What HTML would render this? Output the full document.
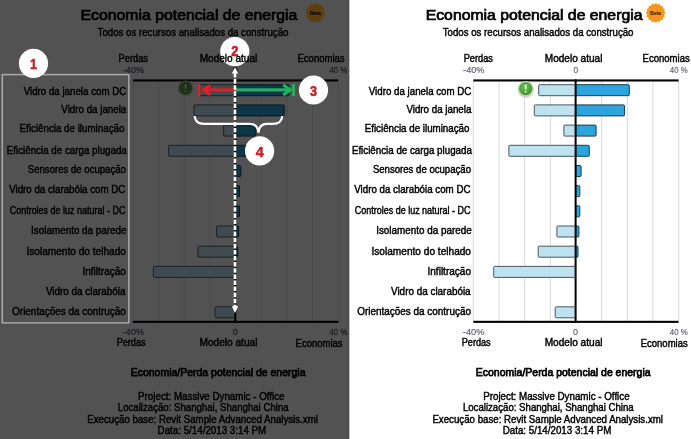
<!DOCTYPE html><html><head><meta charset="utf-8"><style>html,body{margin:0;padding:0;background:#fff;overflow:hidden;}svg text{font-family:"Liberation Sans", sans-serif;}</style></head><body><svg width="691" height="439" viewBox="0 0 691 439" style="display:block;will-change:transform;font-family:'Liberation Sans', sans-serif"><rect x="0" y="0" width="691" height="439" fill="#fff"/>
<rect x="472.8" y="81" width="1" height="240" fill="#d9d9d9"/>
<rect x="498.5" y="81" width="1" height="240" fill="#d9d9d9"/>
<rect x="524.1" y="81" width="1" height="240" fill="#d9d9d9"/>
<rect x="549.8" y="81" width="1" height="240" fill="#d9d9d9"/>
<rect x="601.1" y="81" width="1" height="240" fill="#d9d9d9"/>
<rect x="626.8" y="81" width="1" height="240" fill="#d9d9d9"/>
<rect x="652.4" y="81" width="1" height="240" fill="#d9d9d9"/>
<rect x="678.1" y="81" width="1" height="240" fill="#d9d9d9"/>
<rect x="538.7" y="84.7" width="36.9" height="11.0" rx="1" fill="#bde2f0" stroke="#4a5560" stroke-width="1"/>
<rect x="575.6" y="84.7" width="53.7" height="11.0" rx="1" fill="#2aa5de" stroke="#1b3c50" stroke-width="1"/>
<rect x="534.3" y="104.9" width="41.3" height="11.0" rx="1" fill="#bde2f0" stroke="#4a5560" stroke-width="1"/>
<rect x="575.6" y="104.9" width="49.0" height="11.0" rx="1" fill="#2aa5de" stroke="#1b3c50" stroke-width="1"/>
<rect x="563.9" y="125.1" width="11.7" height="11.0" rx="1" fill="#bde2f0" stroke="#4a5560" stroke-width="1"/>
<rect x="575.6" y="125.1" width="20.5" height="11.0" rx="1" fill="#2aa5de" stroke="#1b3c50" stroke-width="1"/>
<rect x="508.9" y="145.3" width="66.7" height="11.0" rx="1" fill="#bde2f0" stroke="#4a5560" stroke-width="1"/>
<rect x="575.6" y="145.3" width="13.7" height="11.0" rx="1" fill="#2aa5de" stroke="#1b3c50" stroke-width="1"/>
<rect x="575.6" y="165.5" width="5.5" height="11.0" rx="1" fill="#2aa5de" stroke="#1b3c50" stroke-width="1"/>
<rect x="575.6" y="185.7" width="4.2" height="11.0" rx="1" fill="#2aa5de" stroke="#1b3c50" stroke-width="1"/>
<rect x="575.6" y="205.8" width="4.2" height="11.0" rx="1" fill="#2aa5de" stroke="#1b3c50" stroke-width="1"/>
<rect x="556.9" y="226.0" width="18.7" height="11.0" rx="1" fill="#bde2f0" stroke="#4a5560" stroke-width="1"/>
<rect x="575.6" y="226.0" width="3.3" height="11.0" rx="1" fill="#2aa5de" stroke="#1b3c50" stroke-width="1"/>
<rect x="538.2" y="246.2" width="37.4" height="11.0" rx="1" fill="#bde2f0" stroke="#4a5560" stroke-width="1"/>
<rect x="575.6" y="246.2" width="2.4" height="11.0" rx="1" fill="#2aa5de" stroke="#1b3c50" stroke-width="1"/>
<rect x="493.7" y="266.4" width="81.9" height="11.0" rx="1" fill="#bde2f0" stroke="#4a5560" stroke-width="1"/>
<rect x="555.2" y="306.8" width="20.4" height="11.0" rx="1" fill="#bde2f0" stroke="#4a5560" stroke-width="1"/>
<rect x="473.3" y="79.4" width="205.3" height="2.1" fill="#000"/>
<rect x="473.3" y="320.8" width="205.3" height="2.1" fill="#000"/>
<rect x="574.6" y="79.4" width="2" height="243.5" fill="#000"/>
<defs><radialGradient id="wg" cx="0.45" cy="0.35" r="0.7"><stop offset="0" stop-color="#6cbf55"/><stop offset="1" stop-color="#3f8f34"/></radialGradient></defs>
<circle cx="525.7" cy="89.8" r="8.2" fill="#d2d6d0"/>
<circle cx="525.7" cy="88.6" r="7.7" fill="#b9e0a4"/>
<circle cx="525.7" cy="88.6" r="6.6" fill="url(#wg)"/>
<rect x="524.8000000000001" y="84.39999999999999" width="1.8" height="5.2" rx="0.9" fill="#eefbe8"/>
<circle cx="525.7" cy="91.6" r="0.95" fill="#eefbe8"/>
<polygon points="665.60,13.00 664.13,14.68 664.85,16.79 662.85,17.78 662.70,20.00 660.48,20.15 659.49,22.15 657.38,21.43 655.70,22.90 654.02,21.43 651.91,22.15 650.92,20.15 648.70,20.00 648.55,17.78 646.55,16.79 647.27,14.68 645.80,13.00 647.27,11.32 646.55,9.21 648.55,8.22 648.70,6.00 650.92,5.85 651.91,3.85 654.02,4.57 655.70,3.10 657.38,4.57 659.49,3.85 660.48,5.85 662.70,6.00 662.85,8.22 664.85,9.21 664.13,11.32" fill="#f5971f"/>
<text x="650.3" y="15.2" font-size="5" font-weight="bold" fill="#3a2000" textLength="10.8" lengthAdjust="spacingAndGlyphs" stroke="#3a2000" stroke-width="0.1">Beta</text>
<text x="425.7" y="20.3" font-size="14.8" font-weight="normal" fill="#000" textLength="216.8" lengthAdjust="spacingAndGlyphs" stroke="#000" stroke-width="0.72">Economia potencial de energia</text>
<text x="442.7" y="36.0" font-size="10.5" font-weight="normal" fill="#000" textLength="190.8" lengthAdjust="spacingAndGlyphs" stroke="#000" stroke-width="0.42">Todos os recursos analisados da construção</text>
<text x="463.7" y="61.8" font-size="10" font-weight="normal" fill="#000" textLength="29.3" lengthAdjust="spacingAndGlyphs" stroke="#000" stroke-width="0.42">Perdas</text>
<text x="544.8" y="61.8" font-size="10" font-weight="normal" fill="#000" textLength="57.6" lengthAdjust="spacingAndGlyphs" stroke="#000" stroke-width="0.42">Modelo atual</text>
<text x="642.6" y="61.8" font-size="10" font-weight="normal" fill="#000" textLength="47.1" lengthAdjust="spacingAndGlyphs" stroke="#000" stroke-width="0.42">Economias</text>
<text x="461.8" y="345.8" font-size="10" font-weight="normal" fill="#000" textLength="28.8" lengthAdjust="spacingAndGlyphs" stroke="#000" stroke-width="0.42">Perdas</text>
<text x="544.7" y="345.8" font-size="10" font-weight="normal" fill="#000" textLength="57.8" lengthAdjust="spacingAndGlyphs" stroke="#000" stroke-width="0.42">Modelo atual</text>
<text x="640.7" y="346.9" font-size="10" font-weight="normal" fill="#000" textLength="47.0" lengthAdjust="spacingAndGlyphs" stroke="#000" stroke-width="0.42">Economias</text>
<text x="475.8" y="375.6" font-size="11.4" font-weight="normal" fill="#000" textLength="174.8" lengthAdjust="spacingAndGlyphs" stroke="#000" stroke-width="0.75">Economia/Perda potencial de energia</text>
<text x="483.2" y="399.9" font-size="10" font-weight="normal" fill="#000" textLength="146.4" lengthAdjust="spacingAndGlyphs" stroke="#000" stroke-width="0.42">Project: Massive Dynamic - Office</text>
<text x="462.9" y="411.3" font-size="10" font-weight="normal" fill="#000" textLength="170.8" lengthAdjust="spacingAndGlyphs" stroke="#000" stroke-width="0.42">Localização: Shanghai, Shanghai China</text>
<text x="432.4" y="422.5" font-size="10" font-weight="normal" fill="#000" textLength="230.6" lengthAdjust="spacingAndGlyphs" stroke="#000" stroke-width="0.42">Execução base: Revit Sample Advanced Analysis.xml</text>
<text x="502.7" y="434.0" font-size="10" font-weight="normal" fill="#000" textLength="108.6" lengthAdjust="spacingAndGlyphs" stroke="#000" stroke-width="0.42">Data: 5/14/2013 3:14 PM</text>
<text x="368.8" y="95.3" font-size="10.2" font-weight="normal" fill="#000" textLength="102.6" lengthAdjust="spacingAndGlyphs" stroke="#000" stroke-width="0.42">Vidro da janela com DC</text>
<text x="406.4" y="112.8" font-size="10.2" font-weight="normal" fill="#000" textLength="65.0" lengthAdjust="spacingAndGlyphs" stroke="#000" stroke-width="0.42">Vidro da janela</text>
<text x="364.7" y="131.6" font-size="10.2" font-weight="normal" fill="#000" textLength="104.8" lengthAdjust="spacingAndGlyphs" stroke="#000" stroke-width="0.42">Eficiência de iluminação</text>
<text x="351.9" y="153.5" font-size="10.2" font-weight="normal" fill="#000" textLength="120.0" lengthAdjust="spacingAndGlyphs" stroke="#000" stroke-width="0.42">Eficiência de carga plugada</text>
<text x="372.9" y="172.8" font-size="10.2" font-weight="normal" fill="#000" textLength="98.1" lengthAdjust="spacingAndGlyphs" stroke="#000" stroke-width="0.42">Sensores de ocupação</text>
<text x="354.3" y="192.8" font-size="10.2" font-weight="normal" fill="#000" textLength="116.2" lengthAdjust="spacingAndGlyphs" stroke="#000" stroke-width="0.42">Vidro da clarabóia com DC</text>
<text x="354.8" y="213.6" font-size="10.2" font-weight="normal" fill="#000" textLength="115.7" lengthAdjust="spacingAndGlyphs" stroke="#000" stroke-width="0.42">Controles de luz natural - DC</text>
<text x="376.2" y="234.4" font-size="10.2" font-weight="normal" fill="#000" textLength="95.5" lengthAdjust="spacingAndGlyphs" stroke="#000" stroke-width="0.42">Isolamento da parede</text>
<text x="371.5" y="254.5" font-size="10.2" font-weight="normal" fill="#000" textLength="99.5" lengthAdjust="spacingAndGlyphs" stroke="#000" stroke-width="0.42">Isolamento do telhado</text>
<text x="427.5" y="275.1" font-size="10.2" font-weight="normal" fill="#000" textLength="43.5" lengthAdjust="spacingAndGlyphs" stroke="#000" stroke-width="0.42">Infiltração</text>
<text x="391.0" y="294.5" font-size="10.2" font-weight="normal" fill="#000" textLength="79.6" lengthAdjust="spacingAndGlyphs" stroke="#000" stroke-width="0.42">Vidro da clarabóia</text>
<text x="357.2" y="315.0" font-size="10.2" font-weight="normal" fill="#000" textLength="113.8" lengthAdjust="spacingAndGlyphs" stroke="#000" stroke-width="0.42">Orientações da contrução</text>
<text x="463.1" y="73.2" font-size="9.2" font-weight="normal" fill="#5f5870" textLength="21.4" lengthAdjust="spacingAndGlyphs" stroke="#5f5870" stroke-width="0.15">-40%</text>
<text x="573.4" y="73.2" font-size="9.2" font-weight="normal" fill="#5f5870" textLength="4.6" lengthAdjust="spacingAndGlyphs" stroke="#5f5870" stroke-width="0.15">0</text>
<text x="669.8" y="73.2" font-size="9.2" font-weight="normal" fill="#5f5870" textLength="17.8" lengthAdjust="spacingAndGlyphs" stroke="#5f5870" stroke-width="0.15">40 %</text>
<text x="462.8" y="334.9" font-size="9.2" font-weight="normal" fill="#5f5870" textLength="21.7" lengthAdjust="spacingAndGlyphs" stroke="#5f5870" stroke-width="0.15">-40%</text>
<text x="573.0" y="334.9" font-size="9.2" font-weight="normal" fill="#5f5870" textLength="5.0" lengthAdjust="spacingAndGlyphs" stroke="#5f5870" stroke-width="0.15">0</text>
<text x="669.8" y="335.2" font-size="9.2" font-weight="normal" fill="#5f5870" textLength="17.9" lengthAdjust="spacingAndGlyphs" stroke="#5f5870" stroke-width="0.15">40 %</text>
<rect x="0" y="0" width="349.2" height="439" fill="#525252"/>
<rect x="347.6" y="0" width="1.6" height="439" fill="#4c4c4c"/>
<rect x="132.5" y="81" width="1" height="240" fill="#4b4b4b"/>
<rect x="158.2" y="81" width="1" height="240" fill="#4b4b4b"/>
<rect x="183.8" y="81" width="1" height="240" fill="#4b4b4b"/>
<rect x="209.5" y="81" width="1" height="240" fill="#4b4b4b"/>
<rect x="260.8" y="81" width="1" height="240" fill="#4b4b4b"/>
<rect x="286.5" y="81" width="1" height="240" fill="#4b4b4b"/>
<rect x="312.1" y="81" width="1" height="240" fill="#4b4b4b"/>
<rect x="337.8" y="81" width="1" height="240" fill="#4b4b4b"/>
<rect x="198.4" y="84.7" width="36.9" height="11.0" rx="1" fill="#3e4b50" stroke="#1c2224" stroke-width="1"/>
<rect x="235.3" y="84.7" width="53.7" height="11.0" rx="1" fill="#0e3548" stroke="#0a1a22" stroke-width="1"/>
<rect x="194.0" y="104.9" width="41.3" height="11.0" rx="1" fill="#3e4b50" stroke="#1c2224" stroke-width="1"/>
<rect x="235.3" y="104.9" width="49.0" height="11.0" rx="1" fill="#0e3548" stroke="#0a1a22" stroke-width="1"/>
<rect x="223.6" y="125.1" width="11.7" height="11.0" rx="1" fill="#3e4b50" stroke="#1c2224" stroke-width="1"/>
<rect x="235.3" y="125.1" width="20.5" height="11.0" rx="1" fill="#0e3548" stroke="#0a1a22" stroke-width="1"/>
<rect x="168.6" y="145.3" width="66.7" height="11.0" rx="1" fill="#3e4b50" stroke="#1c2224" stroke-width="1"/>
<rect x="235.3" y="145.3" width="13.7" height="11.0" rx="1" fill="#0e3548" stroke="#0a1a22" stroke-width="1"/>
<rect x="235.3" y="165.5" width="5.5" height="11.0" rx="1" fill="#0e3548" stroke="#0a1a22" stroke-width="1"/>
<rect x="235.3" y="185.7" width="4.2" height="11.0" rx="1" fill="#0e3548" stroke="#0a1a22" stroke-width="1"/>
<rect x="235.3" y="205.8" width="4.2" height="11.0" rx="1" fill="#0e3548" stroke="#0a1a22" stroke-width="1"/>
<rect x="216.6" y="226.0" width="18.7" height="11.0" rx="1" fill="#3e4b50" stroke="#1c2224" stroke-width="1"/>
<rect x="235.3" y="226.0" width="3.3" height="11.0" rx="1" fill="#0e3548" stroke="#0a1a22" stroke-width="1"/>
<rect x="197.9" y="246.2" width="37.4" height="11.0" rx="1" fill="#3e4b50" stroke="#1c2224" stroke-width="1"/>
<rect x="235.3" y="246.2" width="2.4" height="11.0" rx="1" fill="#0e3548" stroke="#0a1a22" stroke-width="1"/>
<rect x="153.4" y="266.4" width="81.9" height="11.0" rx="1" fill="#3e4b50" stroke="#1c2224" stroke-width="1"/>
<rect x="214.9" y="306.8" width="20.4" height="11.0" rx="1" fill="#3e4b50" stroke="#1c2224" stroke-width="1"/>
<rect x="133.0" y="79.4" width="205.3" height="2.1" fill="#000"/>
<rect x="133.0" y="320.8" width="205.3" height="2.1" fill="#000"/>
<rect x="234.3" y="79.4" width="2" height="243.5" fill="#000"/>
<circle cx="185.6" cy="89.1" r="7.9" fill="#4f4f4f"/>
<circle cx="185.6" cy="88.1" r="7.6" fill="#3a4536"/>
<circle cx="185.6" cy="88.1" r="6.4" fill="#1b3018"/>
<rect x="184.79999999999998" y="83.89999999999999" width="1.6" height="5.2" rx="0.8" fill="#4a5746"/>
<circle cx="185.6" cy="91.1" r="0.9" fill="#4a5746"/>
<polygon points="325.30,13.00 323.83,14.68 324.55,16.79 322.55,17.78 322.40,20.00 320.18,20.15 319.19,22.15 317.08,21.43 315.40,22.90 313.72,21.43 311.61,22.15 310.62,20.15 308.40,20.00 308.25,17.78 306.25,16.79 306.97,14.68 305.50,13.00 306.97,11.32 306.25,9.21 308.25,8.22 308.40,6.00 310.62,5.85 311.61,3.85 313.72,4.57 315.40,3.10 317.08,4.57 319.19,3.85 320.18,5.85 322.40,6.00 322.55,8.22 324.55,9.21 323.83,11.32" fill="#603e0f"/>
<text x="310.0" y="15.2" font-size="5" font-weight="bold" fill="#000" textLength="10.8" lengthAdjust="spacingAndGlyphs" stroke="#000" stroke-width="0.1">Beta</text>
<rect x="2.3" y="74.6" width="126.6" height="248.3" fill="none" stroke="#aaaaaa" stroke-width="1.5"/>
<rect x="197.6" y="84.2" width="2.7" height="12.2" fill="#ec1c24"/>
<rect x="203" y="88.3" width="32" height="3.2" fill="#d42428"/>
<polygon points="201.6,89.9 209.9,84.2 210.2,86.6 207.2,89.9 210.2,93.2 209.9,95.6" fill="#ec1c24" stroke="#ec1c24" stroke-width="0.8" stroke-linejoin="round"/>
<rect x="292.2" y="83.9" width="2.7" height="12.2" fill="#21b45a"/>
<rect x="235" y="88.3" width="55" height="3.2" fill="#27b063"/>
<polyline points="283.2,84.8 290.2,89.9 283.2,95.0" fill="none" stroke="#21b45a" stroke-width="3"/>
<path d="M194.6,116.2 C195.5,122 198,123.9 204,123.9 L250,123.9 C255,123.9 258,127 258.4,132.6 C258.8,127 262,123.9 267,123.9 L273,123.9 C279,123.9 281.6,122 282.3,116.2" fill="none" stroke="#fff" stroke-width="2.2"/>
<circle cx="33.5" cy="63.4" r="14.6" fill="#fff"/>
<circle cx="234.8" cy="51.6" r="14.6" fill="#fff"/>
<circle cx="313.5" cy="90.0" r="14.6" fill="#fff"/>
<circle cx="259.6" cy="150.9" r="14.6" fill="#fff"/>
<text x="30.00" y="68.7" font-size="14.6" font-weight="bold" fill="#cc1c22" stroke="#cc1c22" stroke-width="0.5" textLength="7.0" lengthAdjust="spacingAndGlyphs">1</text>
<text x="231.20" y="56.3" font-size="14.6" font-weight="bold" fill="#cc1c22" stroke="#cc1c22" stroke-width="0.5" textLength="7.2" lengthAdjust="spacingAndGlyphs">2</text>
<text x="310.00" y="95.6" font-size="14.6" font-weight="bold" fill="#cc1c22" stroke="#cc1c22" stroke-width="0.5" textLength="7.0" lengthAdjust="spacingAndGlyphs">3</text>
<text x="255.65" y="156.7" font-size="14.6" font-weight="bold" fill="#cc1c22" stroke="#cc1c22" stroke-width="0.5" textLength="7.9" lengthAdjust="spacingAndGlyphs">4</text>
<text x="80.6" y="20.3" font-size="14.8" font-weight="normal" fill="#000" textLength="216.8" lengthAdjust="spacingAndGlyphs" stroke="#000" stroke-width="0.72">Economia potencial de energia</text>
<text x="97.6" y="36.0" font-size="10.5" font-weight="normal" fill="#000" textLength="190.8" lengthAdjust="spacingAndGlyphs" stroke="#000" stroke-width="0.42">Todos os recursos analisados da construção</text>
<text x="118.6" y="61.8" font-size="10" font-weight="normal" fill="#000" textLength="29.3" lengthAdjust="spacingAndGlyphs" stroke="#000" stroke-width="0.42">Perdas</text>
<text x="199.7" y="61.8" font-size="10" font-weight="normal" fill="#000" textLength="57.6" lengthAdjust="spacingAndGlyphs" stroke="#000" stroke-width="0.42">Modelo atual</text>
<text x="297.5" y="61.8" font-size="10" font-weight="normal" fill="#000" textLength="47.1" lengthAdjust="spacingAndGlyphs" stroke="#000" stroke-width="0.42">Economias</text>
<text x="116.7" y="345.8" font-size="10" font-weight="normal" fill="#000" textLength="28.8" lengthAdjust="spacingAndGlyphs" stroke="#000" stroke-width="0.42">Perdas</text>
<text x="199.6" y="345.8" font-size="10" font-weight="normal" fill="#000" textLength="57.8" lengthAdjust="spacingAndGlyphs" stroke="#000" stroke-width="0.42">Modelo atual</text>
<text x="295.6" y="346.9" font-size="10" font-weight="normal" fill="#000" textLength="47.0" lengthAdjust="spacingAndGlyphs" stroke="#000" stroke-width="0.42">Economias</text>
<text x="130.7" y="375.6" font-size="11.4" font-weight="normal" fill="#000" textLength="174.8" lengthAdjust="spacingAndGlyphs" stroke="#000" stroke-width="0.75">Economia/Perda potencial de energia</text>
<text x="138.1" y="399.9" font-size="10" font-weight="normal" fill="#000" textLength="146.4" lengthAdjust="spacingAndGlyphs" stroke="#000" stroke-width="0.42">Project: Massive Dynamic - Office</text>
<text x="117.8" y="411.3" font-size="10" font-weight="normal" fill="#000" textLength="170.8" lengthAdjust="spacingAndGlyphs" stroke="#000" stroke-width="0.42">Localização: Shanghai, Shanghai China</text>
<text x="87.3" y="422.5" font-size="10" font-weight="normal" fill="#000" textLength="230.6" lengthAdjust="spacingAndGlyphs" stroke="#000" stroke-width="0.42">Execução base: Revit Sample Advanced Analysis.xml</text>
<text x="157.6" y="434.0" font-size="10" font-weight="normal" fill="#000" textLength="108.6" lengthAdjust="spacingAndGlyphs" stroke="#000" stroke-width="0.42">Data: 5/14/2013 3:14 PM</text>
<text x="23.7" y="95.3" font-size="10.2" font-weight="normal" fill="#000" textLength="102.6" lengthAdjust="spacingAndGlyphs" stroke="#000" stroke-width="0.42">Vidro da janela com DC</text>
<text x="61.3" y="112.8" font-size="10.2" font-weight="normal" fill="#000" textLength="65.0" lengthAdjust="spacingAndGlyphs" stroke="#000" stroke-width="0.42">Vidro da janela</text>
<text x="19.6" y="131.6" font-size="10.2" font-weight="normal" fill="#000" textLength="104.8" lengthAdjust="spacingAndGlyphs" stroke="#000" stroke-width="0.42">Eficiência de iluminação</text>
<text x="6.8" y="153.5" font-size="10.2" font-weight="normal" fill="#000" textLength="120.0" lengthAdjust="spacingAndGlyphs" stroke="#000" stroke-width="0.42">Eficiência de carga plugada</text>
<text x="27.8" y="172.8" font-size="10.2" font-weight="normal" fill="#000" textLength="98.1" lengthAdjust="spacingAndGlyphs" stroke="#000" stroke-width="0.42">Sensores de ocupação</text>
<text x="9.2" y="192.8" font-size="10.2" font-weight="normal" fill="#000" textLength="116.2" lengthAdjust="spacingAndGlyphs" stroke="#000" stroke-width="0.42">Vidro da clarabóia com DC</text>
<text x="9.7" y="213.6" font-size="10.2" font-weight="normal" fill="#000" textLength="115.7" lengthAdjust="spacingAndGlyphs" stroke="#000" stroke-width="0.42">Controles de luz natural - DC</text>
<text x="31.1" y="234.4" font-size="10.2" font-weight="normal" fill="#000" textLength="95.5" lengthAdjust="spacingAndGlyphs" stroke="#000" stroke-width="0.42">Isolamento da parede</text>
<text x="26.4" y="254.5" font-size="10.2" font-weight="normal" fill="#000" textLength="99.5" lengthAdjust="spacingAndGlyphs" stroke="#000" stroke-width="0.42">Isolamento do telhado</text>
<text x="82.4" y="275.1" font-size="10.2" font-weight="normal" fill="#000" textLength="43.5" lengthAdjust="spacingAndGlyphs" stroke="#000" stroke-width="0.42">Infiltração</text>
<text x="45.9" y="294.5" font-size="10.2" font-weight="normal" fill="#000" textLength="79.6" lengthAdjust="spacingAndGlyphs" stroke="#000" stroke-width="0.42">Vidro da clarabóia</text>
<text x="12.1" y="315.0" font-size="10.2" font-weight="normal" fill="#000" textLength="113.8" lengthAdjust="spacingAndGlyphs" stroke="#000" stroke-width="0.42">Orientações da contrução</text>
<text x="122.8" y="73.2" font-size="9.2" font-weight="normal" fill="#232027" textLength="21.4" lengthAdjust="spacingAndGlyphs" stroke="#232027" stroke-width="0.3">-40%</text>
<text x="233.1" y="73.2" font-size="9.2" font-weight="normal" fill="#232027" textLength="4.6" lengthAdjust="spacingAndGlyphs" stroke="#232027" stroke-width="0.3">0</text>
<text x="329.5" y="73.2" font-size="9.2" font-weight="normal" fill="#232027" textLength="17.8" lengthAdjust="spacingAndGlyphs" stroke="#232027" stroke-width="0.3">40 %</text>
<text x="122.5" y="334.9" font-size="9.2" font-weight="normal" fill="#232027" textLength="21.7" lengthAdjust="spacingAndGlyphs" stroke="#232027" stroke-width="0.3">-40%</text>
<text x="232.7" y="334.9" font-size="9.2" font-weight="normal" fill="#232027" textLength="5.0" lengthAdjust="spacingAndGlyphs" stroke="#232027" stroke-width="0.3">0</text>
<text x="329.5" y="335.2" font-size="9.2" font-weight="normal" fill="#232027" textLength="17.9" lengthAdjust="spacingAndGlyphs" stroke="#232027" stroke-width="0.3">40 %</text>
<line x1="235" y1="73" x2="235" y2="307" stroke="#fff" stroke-width="2.6" stroke-dasharray="4.6 1.5"/>
<polygon points="235,313 231.8,306.2 238.2,306.2" fill="#fff"/>
<polygon points="235,67.6 231.8,73.5 238.2,73.5" fill="#fff"/></svg></body></html>
